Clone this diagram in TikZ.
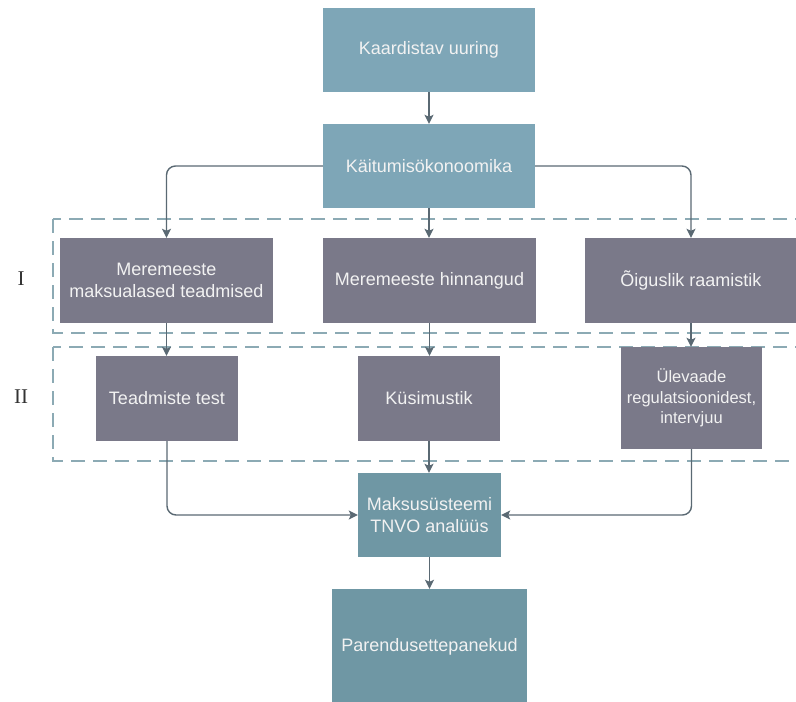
\documentclass[tikz,border=0pt]{standalone}
\usepackage{fontspec}
\setmainfont{Liberation Sans}
\newfontfamily\romanfont{Liberation Serif}
\usetikzlibrary{arrows.meta}
\definecolor{topblue}{RGB}{126,166,183}
\definecolor{tealbox}{RGB}{111,151,164}
\definecolor{graybox}{RGB}{122,121,137}
\definecolor{arrowcol}{RGB}{90,105,115}
\definecolor{dashcol}{RGB}{140,170,180}
\definecolor{boxtext}{RGB}{242,242,242}
\begin{document}
\begin{tikzpicture}[x=1pt,y=-1pt,
  boxbase/.style={rectangle, draw=none, inner sep=0pt, align=center, text=boxtext,
    font=\fontsize{18}{22}\selectfont},
  bluebox/.style={boxbase, fill=topblue},
  tealnode/.style={boxbase, fill=tealbox},
  graynode/.style={boxbase, fill=graybox},
  conn/.style={draw=arrowcol, line width=1.4pt, rounded corners=9pt,
    -{Stealth[length=9pt, width=9pt, inset=2pt]}},
  dashbox/.style={draw=dashcol, line width=1.5pt, dash pattern=on 14pt off 8pt},
  romanlbl/.style={inner sep=0pt, text=black!80, font=\romanfont\fontsize{21}{24}\selectfont}
]
\useasboundingbox (0,0) rectangle (796,702);
\clip (0,0) rectangle (796,702);

% dashed groups
\draw[dashbox] (53,219) rectangle (812,333);
\draw[dashbox] (53,347) rectangle (812,461);

% nodes
\node[bluebox, minimum width=212pt, minimum height=84pt] (kaard) at (429,50) {Kaardistav uuring};
\node[bluebox, minimum width=212pt, minimum height=84pt] (kait) at (429,166) {Käitumisökonoomika};

\node[graynode, minimum width=213pt, minimum height=85pt] (m1) at (166.5,280.5) {Meremeeste\\maksualased teadmised};
\node[graynode, minimum width=213pt, minimum height=85pt] (m2) at (429.5,280.5) {Meremeeste hinnangud};
\node[graynode, minimum width=212pt, minimum height=85pt] (oig) at (691,280.5) {Õiguslik raamistik};

\node[graynode, minimum width=142pt, minimum height=85pt] (test) at (167,398.5) {Teadmiste test};
\node[graynode, minimum width=142pt, minimum height=85pt] (kus) at (429,398.5) {Küsimustik};
\node[graynode, minimum width=141pt, minimum height=102pt,
  font=\fontsize{16.5}{20.5}\selectfont] (ule) at (691.5,398) {Ülevaade\\regulatsioonidest,\\intervjuu};

\node[tealnode, minimum width=143pt, minimum height=84pt] (maks) at (429.5,515) {Maksusüsteemi\\TNVO analüüs};
\node[tealnode, minimum width=195pt, minimum height=116pt] (par) at (429.5,647) {Parendusettepanekud};

% labels
\node[romanlbl] (lI) at (21,279) {I};
\node[romanlbl] (lII) at (21,397) {II};

% connectors
\draw[conn] (kaard.south) -- (kait.north);
\draw[conn] (kait.west) -| (m1.north);
\draw[conn] (kait.south) -- (kait.south |- m2.north);
\draw[conn] (kait.east) -| (oig.north);
\draw[conn] (m1.south) -- (m1.south |- test.north);
\draw[conn] (m2.south) -- (m2.south |- kus.north);
\draw[conn] (oig.south) -- (oig.south |- ule.north);
\draw[conn] (test.south) |- (maks.west);
\draw[conn] (kus.south) -- (kus.south |- maks.north);
\draw[conn] (ule.south) |- (maks.east);
\draw[conn] (maks.south) -- (maks.south |- par.north);
\end{tikzpicture}
\end{document}
